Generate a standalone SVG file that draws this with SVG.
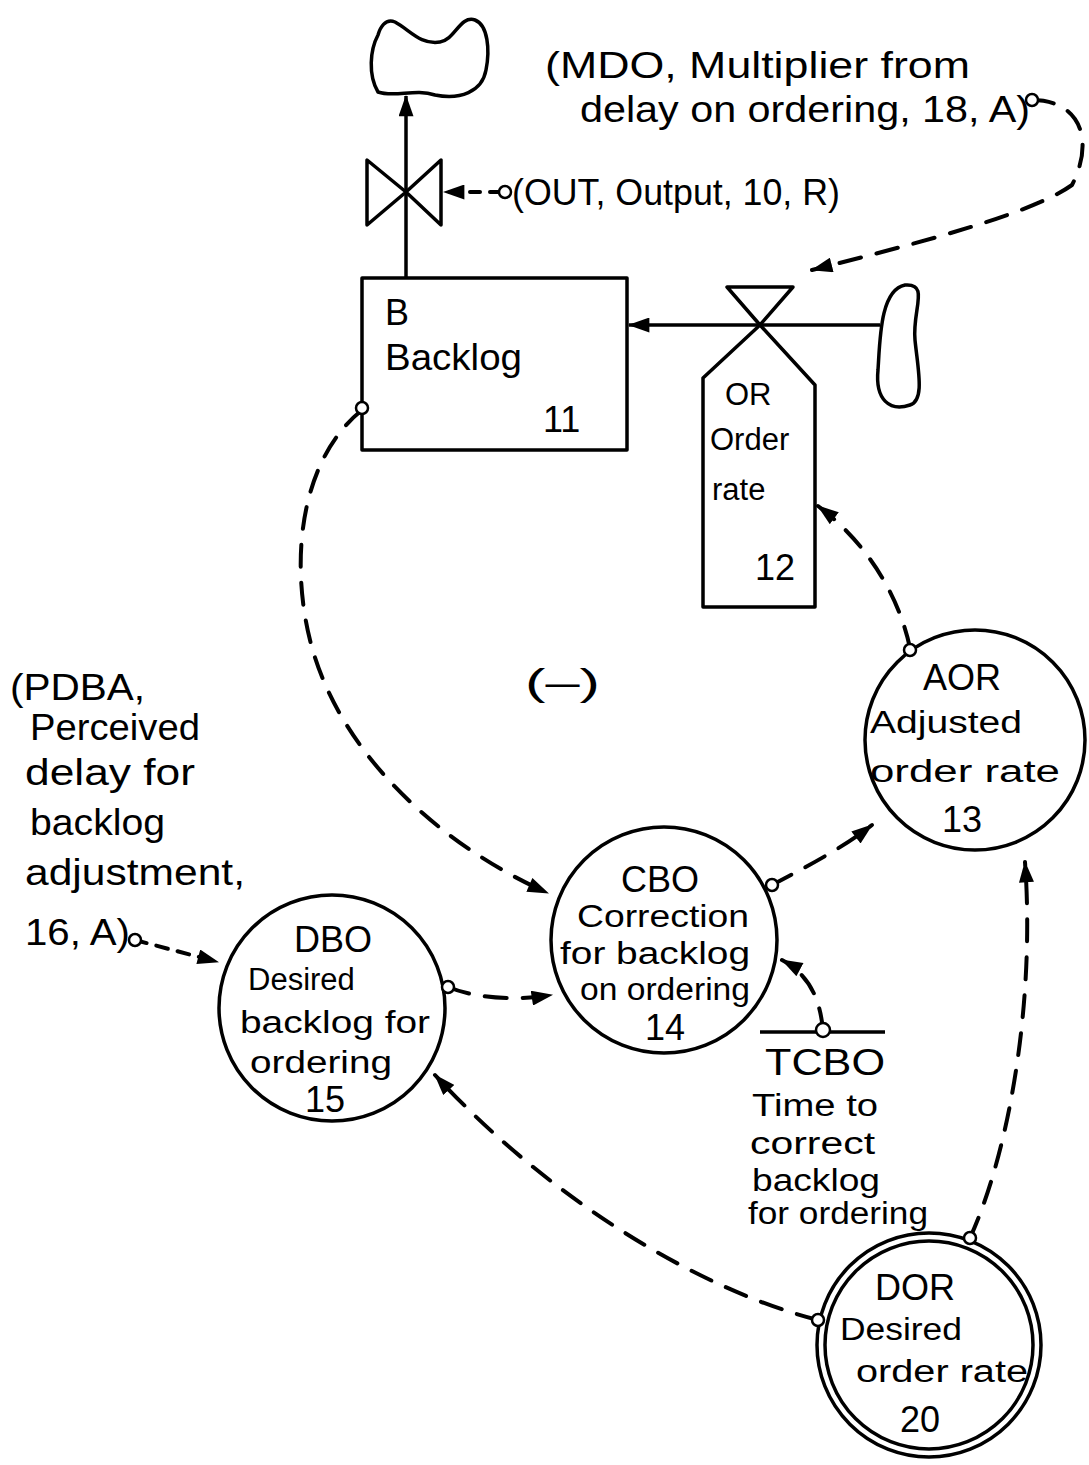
<svg xmlns="http://www.w3.org/2000/svg" width="1089" height="1465" viewBox="0 0 1089 1465">
<style>
text{font-family:"Liberation Sans","DejaVu Sans",sans-serif;font-size:36px;fill:#000}
.sm{font-size:31px}
.shape{fill:none;stroke:#000;stroke-width:3.5;stroke-linejoin:round}
.flow{fill:none;stroke:#000;stroke-width:3.5}
.info{fill:none;stroke:#000;stroke-width:4;stroke-dasharray:22 16;stroke-linecap:round}
.tap{fill:#fff;stroke:#000;stroke-width:2.5}
</style>
<defs>
<marker id="ah" viewBox="0 0 20 14" refX="19" refY="7" markerWidth="22" markerHeight="15" markerUnits="userSpaceOnUse" orient="auto">
<path d="M0,0 L20,7 L0,14 Z" fill="#000"/>
</marker>
</defs>
<rect width="1089" height="1465" fill="#fff"/>

<g id="connectors">
<path class="flow" d="M406,278 L406,96" marker-end="url(#ah)"/>
<path class="flow" d="M880,325 L629,325" marker-end="url(#ah)"/>
<path class="info" style="stroke-dasharray:10 10" d="M500,192 L444,192" marker-end="url(#ah)"/>
<path class="info" d="M1032,100 C1080,100 1095,140 1072,185 C1030,215 910,245 812,270" marker-end="url(#ah)"/>
<path class="info" d="M362,410 C300,460 290,560 310,640 C340,760 450,850 548,893" marker-end="url(#ah)"/>
<path class="info" d="M772,885 C800,870 840,850 872,825" marker-end="url(#ah)"/>
<path class="info" d="M448,987 C480,1000 520,1000 552,995" marker-end="url(#ah)"/>
<path class="info" style="stroke-dasharray:12 10" d="M135,940 L218,962" marker-end="url(#ah)"/>
<path class="info" d="M823,1030 C820,1000 810,975 782,960" marker-end="url(#ah)"/>
<path class="info" d="M970,1238 C1010,1150 1035,1000 1025,862" marker-end="url(#ah)"/>
<path class="info" d="M818,1320 C700,1290 550,1200 435,1075" marker-end="url(#ah)"/>
<path class="info" d="M910,648 C900,600 870,545 818,506" marker-end="url(#ah)"/>
</g>

<g id="cloud-top">
<path class="shape" d="M378,35 C370,50 368,75 378,92 C395,98 415,88 435,95 C460,100 482,92 486,70 C490,50 488,25 475,20 C460,15 455,40 440,42 C420,45 410,30 395,22 C385,18 380,28 378,35 Z"/>
</g>
<g id="cloud-right">
<path class="shape" d="M905,285 C880,290 880,340 878,370 C875,400 890,412 910,405 C925,400 918,370 915,340 C912,310 930,283 905,285 Z"/>
</g>

<g id="valve-out">
<path class="shape" d="M367,160 L367,225 L406,192 Z M441,160 L441,225 L406,192 Z"/>
</g>
<g id="label-out">
<circle class="tap" cx="505" cy="192" r="6"/>
<text x="512" y="205" textLength="328" lengthAdjust="spacingAndGlyphs">(OUT, Output, 10, R)</text>
</g>
<g id="label-mdo">
<text x="545" y="78" textLength="425" lengthAdjust="spacingAndGlyphs">(MDO, Multiplier from</text>
<text x="580" y="122" textLength="450" lengthAdjust="spacingAndGlyphs">delay on ordering, 18, A)</text>
<circle class="tap" cx="1032" cy="100" r="6"/>
</g>

<g id="backlog">
<rect class="shape" x="362" y="278" width="265" height="172"/>
<text x="385" y="325">B</text>
<text x="385" y="370" textLength="137" lengthAdjust="spacingAndGlyphs">Backlog</text>
<text x="543" y="432">11</text>
<circle class="tap" cx="362" cy="408" r="6"/>
</g>

<g id="order-rate">
<path class="shape" d="M727,287 L793,287 L760,325 Z"/>
<path class="shape" d="M760,325 L703,378 L703,607 L815,607 L815,385 Z"/>
<text class="sm" x="725" y="405">OR</text>
<text class="sm" x="710" y="450">Order</text>
<text class="sm" x="712" y="500">rate</text>
<text x="755" y="580">12</text>
</g>

<g id="loop-sign">
<text x="525" y="695" textLength="75" lengthAdjust="spacingAndGlyphs">(–)</text>
</g>

<g id="aor">
<circle class="shape" cx="975" cy="740" r="110"/>
<text x="962" y="690" text-anchor="middle">AOR</text>
<text class="sm" x="870" y="733" textLength="152" lengthAdjust="spacingAndGlyphs">Adjusted</text>
<text class="sm" x="870" y="782" textLength="190" lengthAdjust="spacingAndGlyphs">order rate</text>
<text x="962" y="832" text-anchor="middle">13</text>
<circle class="tap" cx="910" cy="650" r="6"/>
</g>

<g id="cbo">
<circle class="shape" cx="664" cy="940" r="113"/>
<text x="660" y="892" text-anchor="middle">CBO</text>
<text class="sm" x="577" y="927" textLength="172" lengthAdjust="spacingAndGlyphs">Correction</text>
<text class="sm" x="560" y="964" textLength="190" lengthAdjust="spacingAndGlyphs">for backlog</text>
<text class="sm" x="580" y="1000" textLength="170" lengthAdjust="spacingAndGlyphs">on ordering</text>
<text x="665" y="1040" text-anchor="middle">14</text>
<circle class="tap" cx="772" cy="885" r="6"/>
</g>

<g id="dbo">
<circle class="shape" cx="332" cy="1008" r="113"/>
<text x="333" y="952" text-anchor="middle">DBO</text>
<text class="sm" x="248" y="990">Desired</text>
<text class="sm" x="240" y="1033" textLength="190" lengthAdjust="spacingAndGlyphs">backlog for</text>
<text class="sm" x="250" y="1073" textLength="142" lengthAdjust="spacingAndGlyphs">ordering</text>
<text x="325" y="1112" text-anchor="middle">15</text>
<circle class="tap" cx="448" cy="987" r="6"/>
</g>

<g id="pdba">
<text x="10" y="700" textLength="135" lengthAdjust="spacingAndGlyphs">(PDBA,</text>
<text x="30" y="740" textLength="170" lengthAdjust="spacingAndGlyphs">Perceived</text>
<text x="25" y="785" textLength="170" lengthAdjust="spacingAndGlyphs">delay for</text>
<text x="30" y="835" textLength="135" lengthAdjust="spacingAndGlyphs">backlog</text>
<text x="25" y="885" textLength="220" lengthAdjust="spacingAndGlyphs">adjustment,</text>
<text x="25" y="945" textLength="105" lengthAdjust="spacingAndGlyphs">16, A)</text>
<circle class="tap" cx="135" cy="940" r="6"/>
</g>

<g id="tcbo">
<path class="flow" d="M760,1032 L885,1032"/>
<circle class="tap" cx="823" cy="1030" r="7"/>
<text x="765" y="1075" textLength="120" lengthAdjust="spacingAndGlyphs">TCBO</text>
<text class="sm" x="752" y="1116" textLength="126" lengthAdjust="spacingAndGlyphs">Time to</text>
<text class="sm" x="750" y="1154" textLength="125" lengthAdjust="spacingAndGlyphs">correct</text>
<text class="sm" x="752" y="1191" textLength="128" lengthAdjust="spacingAndGlyphs">backlog</text>
<text class="sm" x="748" y="1224" textLength="180" lengthAdjust="spacingAndGlyphs">for ordering</text>
</g>

<g id="dor">
<circle class="shape" cx="929" cy="1345" r="112"/>
<circle class="shape" cx="929" cy="1345" r="104"/>
<text x="915" y="1300" text-anchor="middle">DOR</text>
<text class="sm" x="840" y="1340" textLength="122" lengthAdjust="spacingAndGlyphs">Desired</text>
<text class="sm" x="856" y="1382" textLength="172" lengthAdjust="spacingAndGlyphs">order rate</text>
<text x="920" y="1432" text-anchor="middle">20</text>
<circle class="tap" cx="970" cy="1238" r="6"/>
<circle class="tap" cx="818" cy="1320" r="6"/>
</g>
</svg>
